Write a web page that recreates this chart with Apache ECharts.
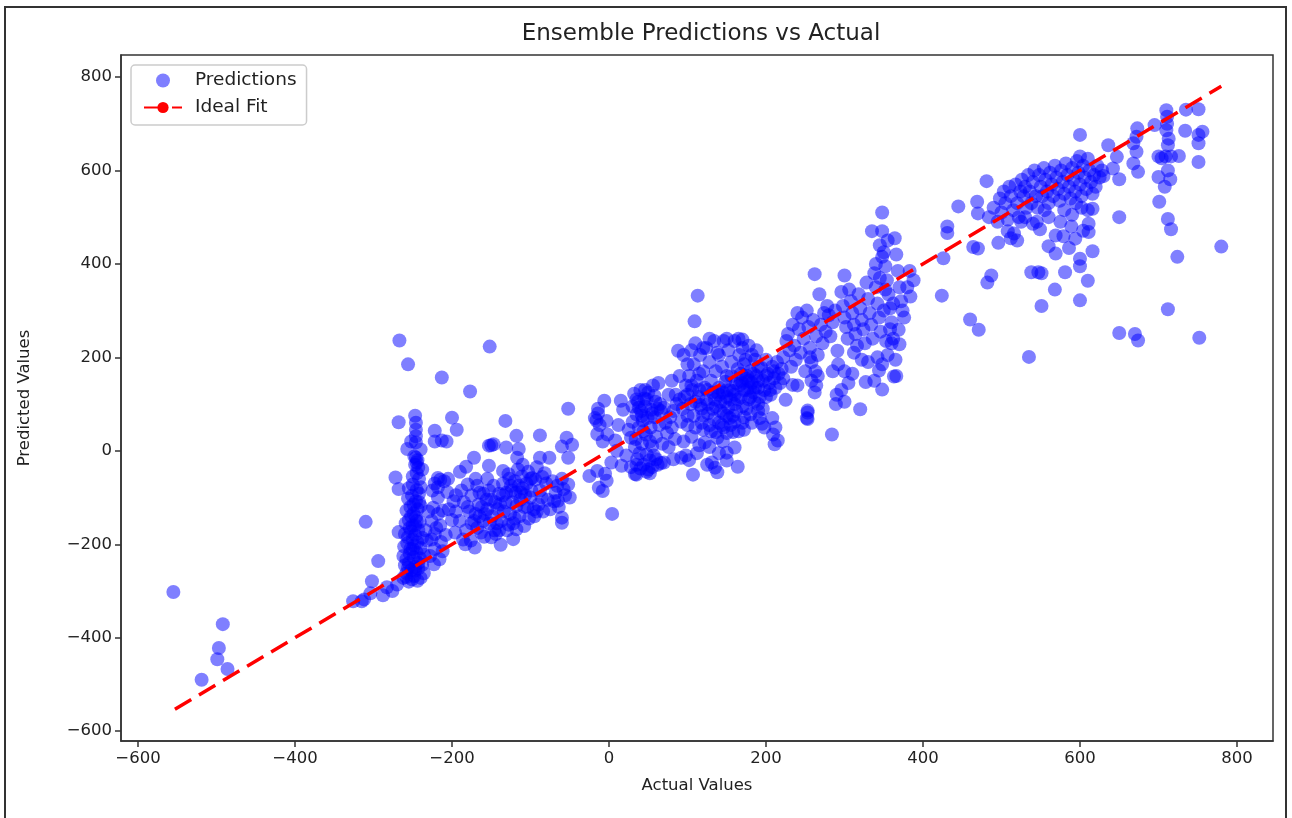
<!DOCTYPE html>
<html><head><meta charset="utf-8">
<style>html,body{margin:0;background:#fff}#c{width:1292px;height:818px}
#f{position:absolute;left:4px;top:6px;width:1283px;height:830px;border:2px solid #333;box-sizing:border-box}
#w{position:relative;width:1292px;height:818px;overflow:hidden;filter:blur(0.55px)}</style>
<script src="https://cdn.jsdelivr.net/npm/echarts@6/dist/echarts.min.js"></script>
</head><body><div id="w"><div id="f"></div><div id="c"></div></div>
<script>
const chartTitle='Ensemble Predictions vs Actual', xName='Actual Values', yName='Predicted Values';
const seriesNames=['Predictions','Ideal Fit'];
const idealFit=[[-553,-553],[780,780]];
const lowTail=[[-555,-302],[-519,-490],[-499,-446],[-497,-422],[-492,-371],[-486,-467],[-310,-152],[-294,-236],[-302,-279],[-326,-322],[-315,-322],[-312,-318],[-288,-309],[-276,-300],[-304,-305],[-283,-292],[-270,-286]];
const wall=[[-262,-272],[-258,-262],[-255,-280],[-251,-275],[-248,-268],[-244,-278],[-240,-272],[-236,-262],[-260,-245],[-256,-250],[-252,-255],[-247,-248],[-243,-252],[-238,-244],[-262,-225],[-258,-232],[-254,-220],[-249,-228],[-245,-218],[-241,-230],[-236,-222],[-261,-205],[-257,-198],[-253,-210],[-248,-202],[-244,-196],[-240,-208],[-268,-174],[-260,-178],[-256,-185],[-252,-172],[-247,-180],[-243,-170],[-238,-186],[-259,-155],[-255,-148],[-250,-160],[-246,-142],[-241,-152],[-258,-128],[-253,-120],[-249,-134],[-244,-125],[-240,-118],[-256,-102],[-251,-96],[-246,-108],[-242,-92],[-268,-82],[-255,-80],[-250,-72],[-245,-84],[-240,-78],[-272,-57],[-250,-55],[-245,-48],[-242,-60],[-247,-30],[-244,-20],[-248,-12],[-243,-36],[-246,-15],[-245,-25],[-257,4],[-240,3],[-246,18],[-252,20],[-247,75],[-246,60],[-246,45],[-246,31],[-268,61],[-267,236],[-256,185],[-238,-40],[-252,-140],[-247,-160],[-255,-240],[-250,-210],[-243,-240],[-258,-270],[-247,-256],[-250,-190],[-245,-150],[-242,-110],[-254,-165],[-249,-115]];
const leftBand=[[-152,223],[-213,157],[-177,127],[-222,43],[-200,71],[-194,45],[-132,64],[-118,32],[-88,33],[-52,90],[-213,22],[-207,20],[-222,20],[-222,-70],[-215,-62],[-210,-65],[-205,-60],[-218,-78],[-225,-85],[-218,-58],[-206,-88],[-218,-100],[-224,-122],[-218,-135],[-226,-150],[-215,-160],[-222,-178],[-232,-192],[-214,-195],[-222,-210],[-228,-225],[-216,-232],[-223,-243],[-230,-130],[-212,-128],[-220,-165],[-208,-180],[-234,-170],[-226,-190],[-212,-215],[-183,-200],[-171,-207],[-138,-201],[-122,-189],[-159,-184],[-108,-161],[-75,-125],[-60,-143],[-60,-154],[-50,-100],[-65,-107],[-190,-45],[-182,-34],[-172,-15],[-153,11],[-150,12],[-147,14],[-131,7],[-115,4],[-153,-32],[-135,-43],[-117,-15],[-88,-15],[-76,-15],[-60,9],[-54,28],[-47,13],[-52,-15],[-98,-58],[-85,-56],[-195,-130],[-190,-150],[-185,-110],[-182,-170],[-178,-130],[-175,-95],[-172,-150],[-168,-75],[-166,-115],[-163,-175],[-160,-92],[-158,-135],[-155,-60],[-152,-155],[-150,-105],[-147,-75],[-144,-178],[-142,-125],[-140,-92],[-137,-150],[-135,-70],[-132,-110],[-130,-170],[-128,-50],[-126,-135],[-124,-85],[-122,-155],[-120,-65],[-118,-118],[-116,-40],[-114,-140],[-112,-90],[-110,-30],[-108,-120],[-105,-70],[-102,-145],[-100,-100],[-96,-125],[-94,-62],[-90,-115],[-88,-85],[-84,-130],[-80,-70],[-78,-105],[-72,-65],[-68,-90],[-64,-120],[-60,-60],[-56,-95],[-52,-72],[-196,-175],[-200,-148],[-204,-125],[-198,-108],[-188,-85],[-186,-190],[-180,-72],[-176,-192],[-170,-60],[-165,-140],[-162,-120],[-156,-105],[-153,-85],[-149,-140],[-146,-170],[-143,-155],[-139,-115],[-134,-130],[-131,-90],[-127,-60],[-123,-110],[-119,-90],[-115,-75],[-111,-55],[-107,-95],[-103,-45],[-99,-85],[-95,-140],[-92,-35],[-86,-100],[-82,-48],[-70,-108],[-66,-75],[-58,-82],[-195,-95],[-168,-165],[-160,-150],[-150,-185],[-140,-170],[-128,-158],[-118,-168],[-113,-105],[-104,-120],[-92,-130],[-180,-120],[-175,-155],[-170,-135],[-165,-90],[-155,-125],[-145,-110],[-135,-95],[-125,-75],[-120,-145],[-110,-80],[-100,-60]];
const centerLeft=[[-25,-54],[-14,90],[-14,80],[-15,36],[-3,64],[-13,-79],[-8,-86],[-3,-64],[-15,-43],[-5,-49],[-6,107],[15,107],[4,-135],[-16,65],[-12,55],[-8,20],[-2,35],[3,-25],[8,22],[12,55],[18,88],[22,-10],[25,45],[28,-35],[30,95],[30,62],[32,122],[33,-50],[34,25],[35,78],[36,-18],[37,105],[38,50],[39,-5],[40,130],[41,85],[42,15],[43,65],[44,-30],[45,112],[46,95],[47,35],[48,-45],[49,70],[50,125],[52,-20],[53,50],[54,88],[55,10],[56,140],[57,-10],[58,72],[59,105],[60,30],[62,-30],[63,145],[64,55],[66,85],[68,15],[70,-25],[72,60],[74,38],[76,8],[78,72],[80,50],[82,-18],[84,25],[86,100],[35,-30],[38,92],[40,-38],[44,42],[46,130],[50,-40],[52,20],[55,-35],[58,118],[60,-18],[65,100],[35,110],[42,75],[48,110],[55,80],[62,90],[-18,70],[10,0],[28,28],[33,8],[48,-8]];
const centerBand=[[113,332],[109,277],[88,214],[284,35],[320,89],[348,131],[363,159],[366,160],[327,147],[289,100],[291,214],[369,259],[211,14],[215,22],[209,35],[212,50],[208,70],[253,86],[253,68],[234,141],[225,109],[107,-51],[35,-51],[52,-48],[138,-46],[164,-34],[135,-36],[131,-25],[150,-4],[150,-21],[160,7],[66,-26],[16,-32],[92,-15],[98,-10],[102,-20],[115,12],[120,45],[125,-30],[128,8],[140,-5],[145,20],[150,38],[155,55],[165,42],[170,60],[175,90],[180,78],[185,105],[190,85],[192,70],[195,58],[198,50],[200,115],[205,130],[95,20],[100,55],[105,30],[108,75],[112,-5],[116,98],[118,60],[122,18],[124,110],[126,80],[130,42],[132,125],[134,68],[136,95],[138,28],[140,135],[142,105],[144,55],[146,80],[148,148],[150,115],[152,92],[154,70],[156,160],[158,128],[160,100],[162,85],[164,175],[166,140],[168,115],[170,95],[172,185],[174,155],[176,130],[178,110],[180,170],[182,145],[184,125],[186,195],[188,160],[190,135],[192,115],[194,178],[196,150],[198,130],[200,195],[202,165],[204,145],[206,120],[208,180],[210,155],[212,135],[214,190],[216,165],[218,145],[220,175],[222,155],[92,62],[94,90],[96,115],[98,140],[100,75],[102,160],[104,100],[106,130],[108,185],[110,50],[112,150],[114,115],[116,205],[118,90],[120,170],[122,135],[124,220],[126,100],[128,190],[130,150],[132,90],[134,235],[136,170],[138,125],[140,205],[142,85],[144,180],[146,235],[148,105],[150,160],[152,215],[154,130],[156,190],[158,75],[160,235],[162,145],[164,110],[166,205],[168,165],[170,220],[172,130],[174,195],[176,160],[178,225],[180,115],[182,205],[184,165],[186,135],[188,215],[190,180],[80,150],[85,120],[90,160],[95,205],[100,185],[105,215],[110,230],[115,165],[120,220],[128,240],[150,240],[138,210],[165,240],[170,238],[128,55],[136,40],[146,50],[158,40],[172,45],[182,60],[190,100],[196,90],[172,72],[160,62],[150,75],[140,60],[120,75],[110,105],[100,120],[90,110],[82,85],[76,120],[70,92],[140,120],[150,130],[160,120],[170,145],[180,135],[190,150],[200,160],[210,170],[178,150],[168,150],[155,110],[145,125],[135,110],[125,130],[115,130],[105,140],[222,200],[226,235],[228,250],[230,215],[232,180],[234,270],[236,225],[238,195],[240,295],[242,260],[244,210],[246,285],[248,240],[250,170],[252,300],[254,265],[256,220],[258,190],[260,280],[262,378],[264,245],[266,205],[268,335],[270,270],[272,230],[274,295],[276,255],[278,310],[280,290],[282,245],[285,275],[288,300],[262,125],[264,140],[266,160],[258,150],[263,170],[256,200],[252,70],[253,82],[240,140],[300,375],[296,340],[298,310],[300,285],[302,265],[304,240],[306,345],[308,320],[310,295],[312,270],[314,250],[316,225],[318,335],[320,305],[322,280],[324,260],[326,230],[328,360],[330,325],[332,295],[334,270],[336,240],[338,380],[340,350],[342,315],[344,285],[346,255],[348,510],[348,470],[345,440],[350,425],[352,395],[354,365],[356,335],[358,305],[360,275],[362,240],[364,455],[366,420],[368,385],[370,350],[372,320],[374,300],[376,285],[380,350],[384,330],[383,385],[388,365],[335,470],[342,200],[348,185],[355,205],[360,230],[365,195],[370,228],[305,145],[300,170],[310,165],[296,130],[312,210],[322,195],[330,190],[338,150],[344,172],[290,120],[285,170],[292,185],[300,105],[340,400],[345,370],[350,300],[358,260],[352,345],[362,315],[355,450],[348,415],[353,235]];
const upperBand=[[535,201],[780,437],[752,242],[712,303],[650,252],[670,250],[674,236],[600,322],[551,310],[568,345],[610,364],[581,382],[538,382],[547,382],[551,380],[487,375],[482,360],[424,332],[460,281],[471,259],[724,415],[600,411],[600,395],[616,427],[586,434],[569,422],[560,438],[594,454],[569,461],[579,459],[589,480],[611,486],[611,468],[604,471],[650,500],[701,533],[712,496],[716,474],[708,565],[715,581],[700,586],[751,618],[751,658],[756,683],[751,676],[734,685],[751,731],[735,730],[726,631],[710,729],[711,715],[711,700],[710,686],[713,668],[712,654],[700,630],[709,630],[716,630],[704,626],[712,600],[673,690],[672,672],[668,658],[672,640],[668,615],[674,597],[695,697],[636,654],[600,676],[647,629],[642,604],[650,581],[630,588],[481,577],[445,523],[469,533],[470,508],[431,480],[431,466],[426,412],[464,436],[470,433],[496,445],[520,450],[525,490],[549,474],[540,486],[512,455],[508,470],[516,465],[484,500],[490,520],[495,490],[498,540],[500,510],[503,555],[505,530],[508,495],[510,565],[512,545],[515,515],[518,570],[520,530],[522,500],[524,555],[526,580],[528,545],[530,565],[532,520],[534,590],[536,555],[538,530],[540,575],[542,600],[544,545],[546,520],[548,590],[550,565],[552,545],[554,605],[556,580],[558,555],[560,530],[562,595],[564,570],[566,545],[568,610],[570,585],[572,560],[574,535],[576,600],[578,575],[580,550],[582,615],[584,590],[586,565],[588,540],[590,605],[592,580],[594,555],[596,620],[598,595],[600,570],[600,630],[602,545],[604,610],[606,585],[608,560],[610,625],[612,600],[614,575],[616,550],[618,590],[620,565],[622,610],[625,585],[628,600],[602,520],[610,515],[616,518],[560,500],[575,490],[580,515],[590,505],[595,530],[555,515],[545,490],[530,500]];
const actual=[].concat(lowTail,wall,leftBand,centerLeft,centerBand,upperBand);
const chart=echarts.init(document.getElementById('c'));
const font='"DejaVu Sans"', ink='#222';
const axisCommon={axisLine:{show:true,onZero:false,lineStyle:{color:'#333',width:1.5}},axisTick:{show:true,length:6,lineStyle:{color:'#333',width:1.5}},
  splitLine:{show:false},axisLabel:{color:ink,fontFamily:font,fontSize:16.5,margin:9,formatter:v=>String(v).replace('-','\u2212'),showMinLabel:true,showMaxLabel:true},
  nameLocation:'middle',nameTextStyle:{color:ink,fontFamily:font,fontSize:16.5}};
chart.setOption({animation:false,
 title:{text:chartTitle,left:696,top:18,textAlign:'center',textStyle:{color:ink,fontFamily:font,fontSize:23,fontWeight:'normal'}},
 grid:{left:121,top:55,width:1152,height:686,show:true,borderColor:'#333',borderWidth:1.5,backgroundColor:'#fff'},
 legend:{left:131,top:65,orient:'vertical',padding:[6,10,8,12],itemGap:8,itemWidth:38,itemHeight:14,borderColor:'#ccc',borderWidth:1.5,borderRadius:4,backgroundColor:'#fff',
  textStyle:{color:ink,fontFamily:font,fontSize:18.5,padding:[0,0,0,8]},data:[{name:seriesNames[0],icon:'circle'},{name:seriesNames[1]}]},
 xAxis:{type:'value',min:-621.7,max:845.9,interval:200,...axisCommon,name:xName,nameGap:36,
   axisLabel:{...axisCommon.axisLabel,customValues:[-600,-400,-200,0,200,400,600,800]},axisTick:{...axisCommon.axisTick,customValues:[-600,-400,-200,0,200,400,600,800]}},
 yAxis:{type:'value',min:-621,max:847,...axisCommon,name:yName,nameGap:88,
   axisLabel:{...axisCommon.axisLabel,customValues:[-600,-400,-200,0,200,400,600,800]},axisTick:{...axisCommon.axisTick,customValues:[-600,-400,-200,0,200,400,600,800]}},
 series:[
  {name:seriesNames[0],type:'scatter',data:actual,symbolSize:14,itemStyle:{color:'#0000ff',opacity:0.5},silent:true,z:2},
  {name:seriesNames[1],type:'line',data:idealFit,showSymbol:false,symbol:'none',lineStyle:{color:'#ff0000',width:3.5,type:[19,9]},itemStyle:{color:'#ff0000'},z:3}
 ]});
</script></body></html>
